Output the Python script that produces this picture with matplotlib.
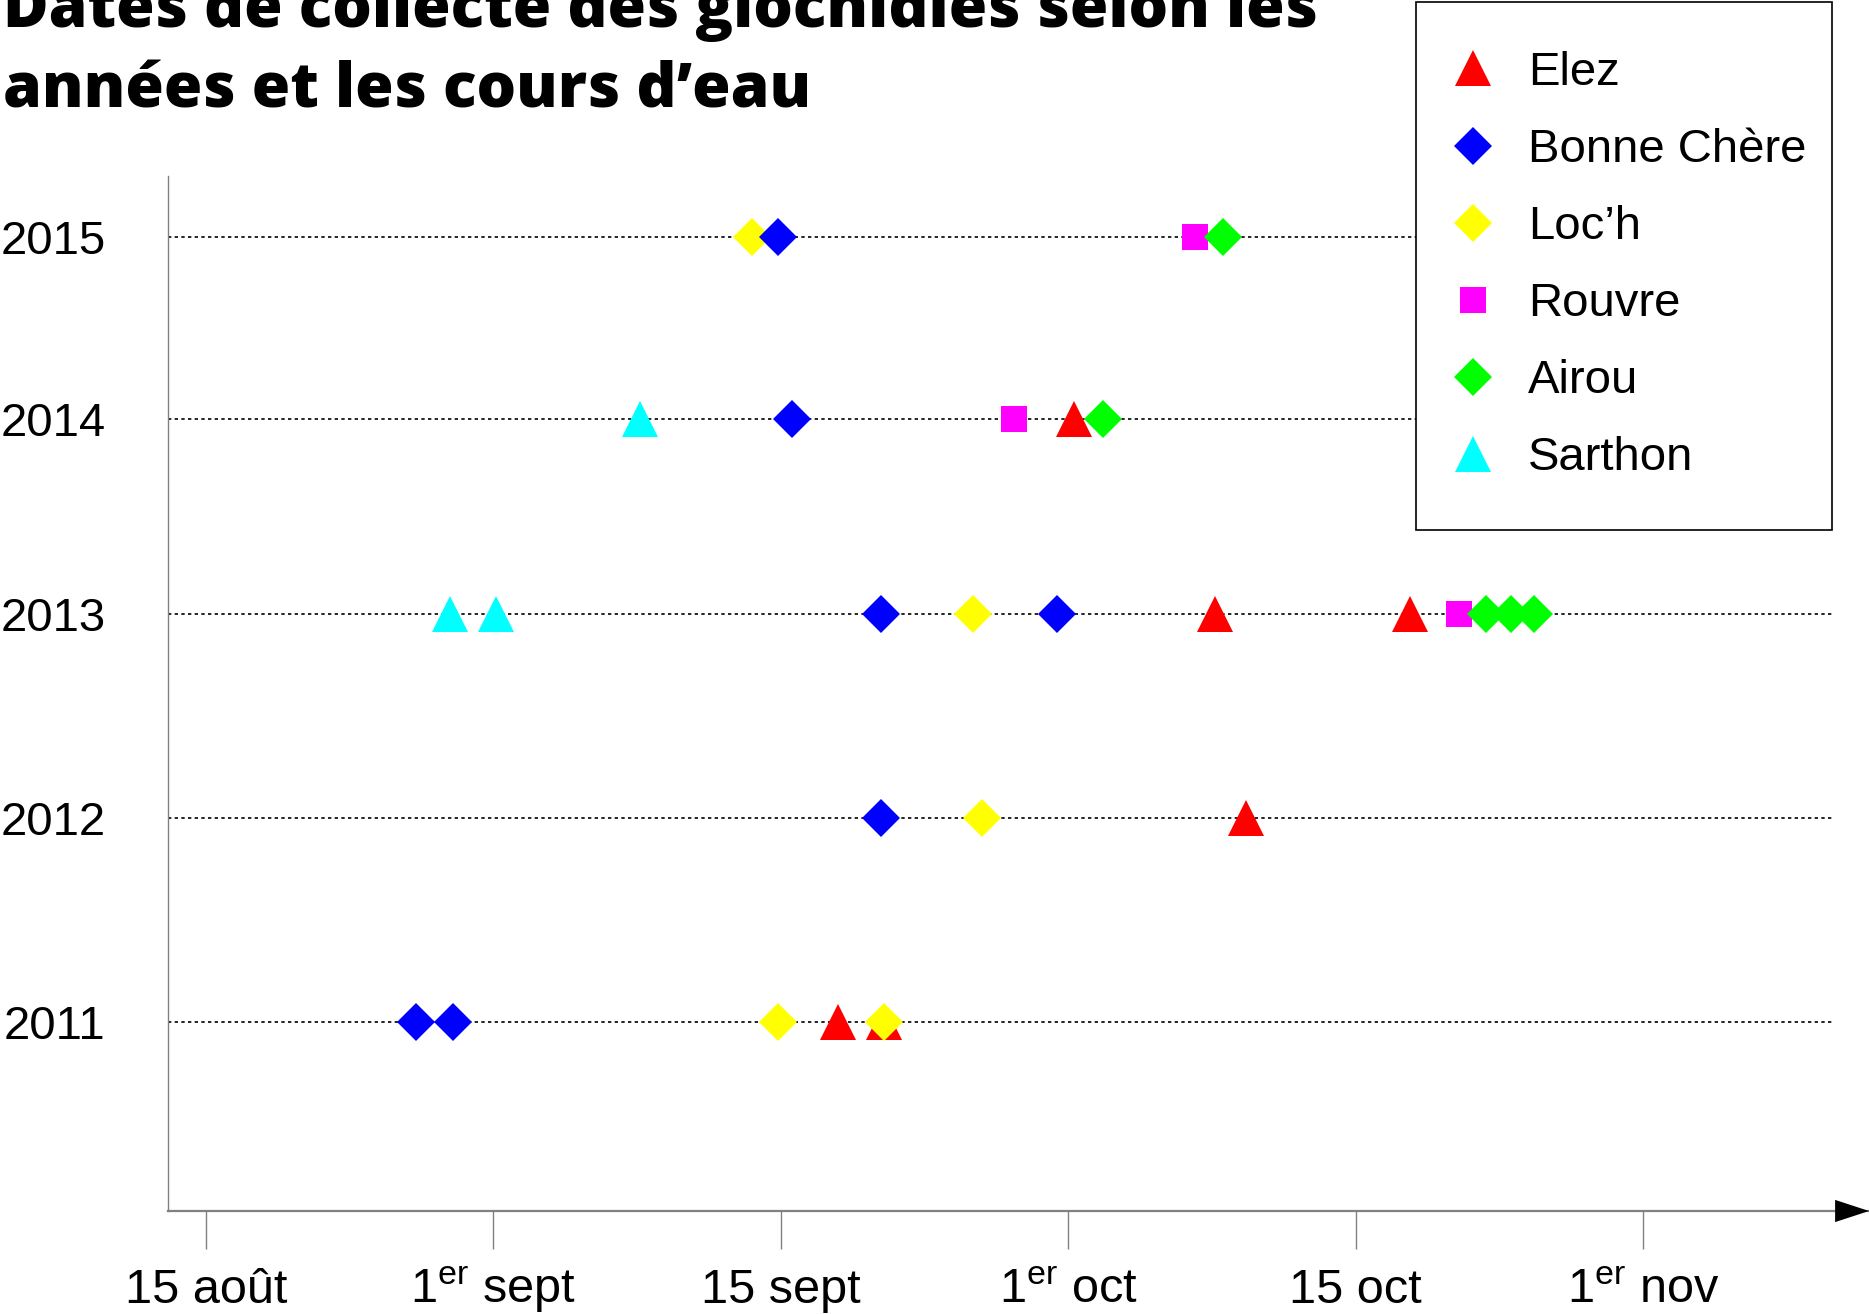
import matplotlib
matplotlib.use("Agg")
import matplotlib.pyplot as plt
from matplotlib.lines import Line2D
from matplotlib.patches import Rectangle

# ---------------- data ----------------
# x positions expressed in half-month periods since 15 août (0 = 15 août, 1 = 1er sept, ...)
tick_labels = ["15 août", r"1$^{\rm er}$ sept", "15 sept", r"1$^{\rm er}$ oct", "15 oct", r"1$^{\rm er}$ nov"]
years = [2011, 2012, 2013, 2014, 2015]

rivers = ["Elez", "Bonne Chère", "Loc’h", "Rouvre", "Airou", "Sarthon"]

elez_x = [2.20, 2.36, 3.62, 3.51, 4.19, 3.02]
elez_y = [2011, 2011, 2012, 2013, 2013, 2014]

bonne_x = [0.73, 0.86, 2.35, 2.35, 2.96, 2.04, 1.99]
bonne_y = [2011, 2011, 2012, 2013, 2013, 2014, 2015]

loch_x = [1.99, 2.36, 2.70, 2.67, 1.90]
loch_y = [2011, 2011, 2012, 2013, 2015]

rouvre_x = [4.36, 2.81, 3.44]
rouvre_y = [2013, 2014, 2015]

airou_x = [4.455, 4.54, 4.62, 3.12, 3.54]
airou_y = [2013, 2013, 2013, 2014, 2015]

sarthon_x = [0.85, 1.01, 1.51]
sarthon_y = [2013, 2013, 2014]

# ---------------- layout / style ----------------
row_pos = {2011: 0.0, 2012: 1.0, 2013: 2.0, 2014: 2.96, 2015: 3.85}
styles = {
    "Elez": dict(marker="^", color="#FF0000", ms=26.5, z=3),
    "Bonne Chère": dict(marker="D", color="#0000FF", ms=19.3, z=5),
    "Loc’h": dict(marker="D", color="#FFFF00", ms=19.3, z=4),
    "Rouvre": dict(marker="s", color="#FF00FF", ms=19.3, z=6),
    "Airou": dict(marker="D", color="#00FF00", ms=19.3, z=7),
    "Sarthon": dict(marker="^", color="#00FFFF", ms=26.5, z=8),
}
series = {
    "Elez": (elez_x, elez_y),
    "Bonne Chère": (bonne_x, bonne_y),
    "Loc’h": (loch_x, loch_y),
    "Rouvre": (rouvre_x, rouvre_y),
    "Airou": (airou_x, airou_y),
    "Sarthon": (sarthon_x, sarthon_y),
}

plt.rcParams["font.family"] = ["Liberation Sans", "DejaVu Sans"]
plt.rcParams["mathtext.fontset"] = "custom"
plt.rcParams["mathtext.rm"] = "Liberation Sans"
plt.rcParams["mathtext.it"] = "Liberation Sans"

W, H = 1869, 1314
fig = plt.figure(figsize=(W / 100, H / 100), dpi=100)
ax = fig.add_axes([168 / W, 1 - 1211 / H, (W - 168) / W, (1211 - 176) / H])

ax.set_xlim(-0.132, 5.786)
ax.set_ylim(-0.925, 4.149)

# grid lines for each year
grid_end = 5.658
for yr in years:
    ax.plot([-0.132, grid_end], [row_pos[yr]] * 2, color="black", lw=1.2,
            linestyle=(0, (2, 2)), zorder=1, clip_on=False)

for name in rivers:
    xs, ys = series[name]
    st = styles[name]
    ax.plot(xs, [row_pos[y] for y in ys], linestyle="none", marker=st["marker"],
            markersize=st["ms"], color=st["color"], markeredgewidth=0, zorder=st["z"],
            clip_on=False)

# axes styling
for s in ["top", "right"]:
    ax.spines[s].set_visible(False)
ax.spines["left"].set_color("#808080")
ax.spines["left"].set_linewidth(1.0)
ax.spines["bottom"].set_color("#808080")
ax.spines["bottom"].set_linewidth(1.6)

ax.set_xticks(range(len(tick_labels)))
ax.set_xticklabels(tick_labels, fontsize=35)
ax.tick_params(axis="x", direction="out", length=27.4, width=1.0, color="#808080", pad=39)
for lbl in ax.get_xticklabels():
    lbl.set_verticalalignment("baseline")
ax.set_yticks([row_pos[y] for y in years])
ax.set_yticklabels([str(y) for y in years], fontsize=34)
ax.tick_params(axis="y", length=0, pad=45)

# arrow head at the end of x axis
ax.annotate("", xy=(1.0, 0.0), xytext=(0.975, 0.0), xycoords="axes fraction",
            textcoords="axes fraction",
            arrowprops=dict(arrowstyle="-|>,head_length=1.22,head_width=0.4",
                            mutation_scale=20, color="black", lw=0,
                            shrinkA=0, shrinkB=0), annotation_clip=False)

# title
title_font = ["Open Sans", "DejaVu Sans"]
fig.text(3 / W, 1 - 27 / H, "Dates de collecte des glochidies selon les",
         fontsize=44.8, fontweight=800, family=title_font,
         ha="left", va="baseline")
fig.text(3 / W, 1 - 108 / H, "années et les cours d’eau",
         fontsize=44.8, fontweight=800, family=title_font,
         ha="left", va="baseline")

# legend box
fig.patches.append(Rectangle((1416 / W, 1 - 530 / H), (1832 - 1416) / W, (530 - 2) / H,
                             transform=fig.transFigure, facecolor="white",
                             edgecolor="black", lw=1.2, zorder=2))
handles = [Line2D([], [], linestyle="none", marker=styles[n]["marker"],
                  markersize=styles[n]["ms"], color=styles[n]["color"],
                  markeredgewidth=0) for n in rivers]
leg = fig.legend(handles, rivers, loc="upper left",
                 bbox_to_anchor=(1454 / W, 1 - 51 / H), frameon=False,
                 fontsize=34, borderpad=0, handlelength=0.8, handletextpad=0.77,
                 labelspacing=0.70, borderaxespad=0)
leg.set_zorder(5)

fig.savefig("out.png", dpi=100)
